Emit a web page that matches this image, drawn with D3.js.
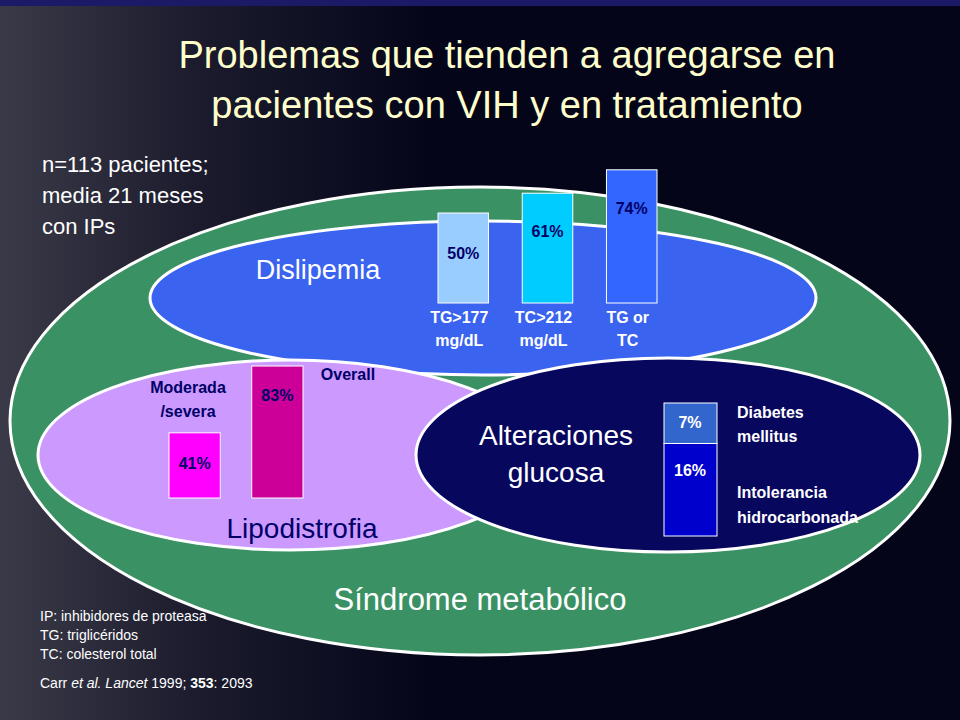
<!DOCTYPE html>
<html><head><meta charset="utf-8">
<script src="https://cdn.jsdelivr.net/npm/d3@7"></script>
<style>body{margin:0;background:#05051a}svg{display:block;font-family:Arial,"Liberation Sans",sans-serif}</style>
</head><body><div id="chart"></div>
<script>
// data
const lipidLabels = [["TG>177","mg/dL"],["TC>212","mg/dL"],["TG or","TC"]];
const lipidValues = [50, 61, 74];
const lipoLabels = ["Moderada /severa", "Overall"];
const lipoValues = [41, 83];
const glucoLabels = ["Intolerancia hidrocarbonada", "Diabetes mellitus"];
const glucoValues = [16, 7];

const W = 960, H = 720;
const svg = d3.select("#chart").append("svg").attr("width", W).attr("height", H);

const defs = svg.append("defs");
const bg = defs.append("linearGradient").attr("id", "bg");
bg.append("stop").attr("offset", "0").attr("stop-color", "#3a3a48");
bg.append("stop").attr("offset", "0.2").attr("stop-color", "#1c1c2e");
bg.append("stop").attr("offset", "0.45").attr("stop-color", "#05051a");
svg.append("rect").attr("width", W).attr("height", H).attr("fill", "url(#bg)");
svg.append("rect").attr("width", W).attr("height", 6).attr("fill", "#1a1a66");

// title
svg.append("text").attr("x", 507).attr("y", 68).attr("text-anchor", "middle")
  .attr("fill", "#ffffcc").attr("font-size", 38).text("Problemas que tienden a agregarse en");
svg.append("text").attr("x", 507).attr("y", 118).attr("text-anchor", "middle")
  .attr("fill", "#ffffcc").attr("font-size", 38).text("pacientes con VIH y  en tratamiento");

// ellipses
const ell = (cx, cy, rx, ry, fill) => svg.append("ellipse").attr("cx", cx).attr("cy", cy)
  .attr("rx", rx).attr("ry", ry).attr("fill", fill).attr("stroke", "#fff").attr("stroke-width", 3);
ell(480, 421, 470, 234, "#3a9163");
ell(483, 298, 333, 77, "#3a63f0");
ell(290, 455, 252, 95, "#cc99ff");
ell(668, 455, 252, 97, "#07075e");

// n text
["n=113 pacientes;", "media 21 meses", "con IPs"].forEach((t, i) =>
  svg.append("text").attr("x", 42).attr("y", 172 + i * 31).attr("fill", "#fff").attr("font-size", 22).text(t));

// lipid bars
const yL = d3.scaleLinear().domain([0, 100]).range([303, 123]);
const xL = d3.scaleBand().domain(d3.range(3)).range([438, 657]).paddingInner(0.4);
const lipidColors = ["#99ccff", "#00ccff", "#3366ff"];
const gl = svg.append("g");
gl.selectAll("rect").data(lipidValues).join("rect")
  .attr("x", (d, i) => xL(i)).attr("y", d => yL(d)).attr("width", xL.bandwidth())
  .attr("height", d => yL(0) - yL(d)).attr("fill", (d, i) => lipidColors[i]).attr("stroke", "#fff");
gl.selectAll("text.v").data(lipidValues).join("text").attr("class", "v")
  .attr("x", (d, i) => xL(i) + xL.bandwidth() / 2).attr("y", (d, i) => [259, 237, 214][i])
  .attr("text-anchor", "middle").attr("fill", "#000066").attr("font-weight", "bold").attr("font-size", 16).text(d => d + "%");
lipidLabels.forEach((l, i) => l.forEach((t, j) =>
  gl.append("text").attr("x", xL(i) + xL.bandwidth() / 2 - 4).attr("y", 323 + j * 23).attr("text-anchor", "middle")
    .attr("fill", "#fff").attr("font-weight", "bold").attr("font-size", 16).text(t)));
svg.append("text").attr("x", 318).attr("y", 279).attr("text-anchor", "middle").attr("fill", "#fff").attr("font-size", 27).text("Dislipemia");

// lipodystrophy bars
const yP = d3.scaleLinear().domain([0, 100]).range([498, 339]);
const xP = d3.scaleBand().domain(d3.range(2)).range([169, 303]).paddingInner(0.38);
const lipoColors = ["#ff00ff", "#cc0099"];
svg.selectAll("rect.p").data(lipoValues).join("rect").attr("class", "p")
  .attr("x", (d, i) => xP(i)).attr("y", d => yP(d)).attr("width", xP.bandwidth())
  .attr("height", d => yP(0) - yP(d)).attr("fill", (d, i) => lipoColors[i]).attr("stroke", "#fff");
svg.selectAll("text.p").data(lipoValues).join("text").attr("class", "p")
  .attr("x", (d, i) => xP(i) + xP.bandwidth() / 2).attr("y", (d, i) => [469, 401][i]).attr("text-anchor", "middle")
  .attr("fill", "#000066").attr("font-weight", "bold").attr("font-size", 16).text(d => d + "%");
[["Moderada", 188, 393], ["/severa", 188, 417], ["Overall", 348, 380]].forEach(([t, x, y]) =>
  svg.append("text").attr("x", x).attr("y", y).attr("text-anchor", "middle").attr("fill", "#000066")
    .attr("font-weight", "bold").attr("font-size", 16).text(t));
svg.append("text").attr("x", 302).attr("y", 538).attr("text-anchor", "middle").attr("fill", "#000066").attr("font-size", 28).text("Lipodistrofia");

// glucose stacked bar
const yG = d3.scaleLinear().domain([0, 23]).range([536, 403]);
const glucoColors = ["#0000cc", "#3366cc"];
const stack = d3.cumsum(glucoValues);
svg.selectAll("rect.g").data(glucoValues).join("rect").attr("class", "g")
  .attr("x", 664).attr("width", 53).attr("y", (d, i) => yG(stack[i])).attr("height", d => yG(0) - yG(d))
  .attr("fill", (d, i) => glucoColors[i]).attr("stroke", "#fff");
svg.selectAll("text.g").data(glucoValues).join("text").attr("class", "g")
  .attr("x", 690).attr("y", (d, i) => [476, 428][i]).attr("text-anchor", "middle")
  .attr("fill", "#fff").attr("font-weight", "bold").attr("font-size", 16).text(d => d + "%");
[["Diabetes", 418], ["mellitus", 442], ["Intolerancia", 498], ["hidrocarbonada", 523]].forEach(([t, y]) =>
  svg.append("text").attr("x", 737).attr("y", y).attr("fill", "#fff").attr("font-weight", "bold").attr("font-size", 16).text(t));
svg.append("text").attr("x", 556).attr("y", 445).attr("text-anchor", "middle").attr("fill", "#fff").attr("font-size", 28).text("Alteraciones");
svg.append("text").attr("x", 556).attr("y", 482).attr("text-anchor", "middle").attr("fill", "#fff").attr("font-size", 28).text("glucosa");

svg.append("text").attr("x", 480).attr("y", 610).attr("text-anchor", "middle").attr("fill", "#fff").attr("font-size", 31).text("Síndrome metabólico");

// footnotes
["IP: inhibidores de proteasa", "TG: triglicéridos", "TC: colesterol total"].forEach((t, i) =>
  svg.append("text").attr("x", 40).attr("y", 621 + i * 19).attr("fill", "#fff").attr("font-size", 14).text(t));
const c = svg.append("text").attr("x", 40).attr("y", 688).attr("fill", "#fff").attr("font-size", 14);
c.append("tspan").text("Carr ");
c.append("tspan").attr("font-style", "italic").text("et al. Lancet");
c.append("tspan").text(" 1999; ");
c.append("tspan").attr("font-weight", "bold").text("353");
c.append("tspan").text(": 2093");
</script></body></html>
